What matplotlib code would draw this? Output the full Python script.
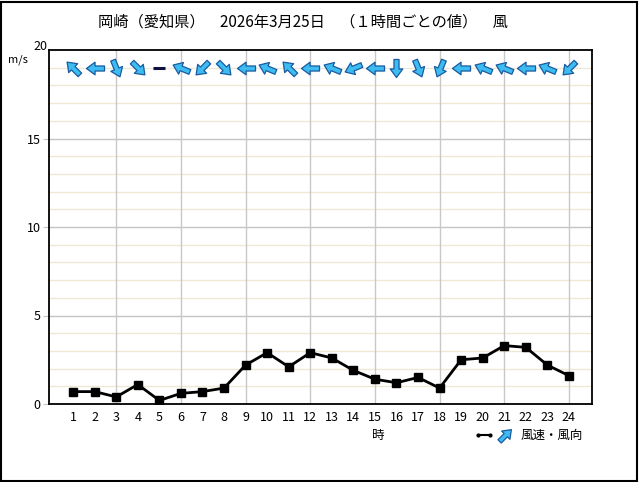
import matplotlib
matplotlib.use("Agg")
import matplotlib.pyplot as plt
from matplotlib.path import Path
from matplotlib.markers import MarkerStyle
from matplotlib.transforms import Affine2D
from matplotlib.lines import Line2D
from matplotlib.patches import Rectangle

plt.rcParams['font.family'] = ['Noto Sans CJK JP', 'DejaVu Sans']

hours = list(range(1, 25))
speed = [0.7, 0.7, 0.4, 1.1, 0.2, 0.6, 0.7, 0.9, 2.2, 2.9, 2.1, 2.9,
         2.6, 1.9, 1.4, 1.2, 1.5, 0.9, 2.5, 2.6, 3.3, 3.2, 2.2, 1.6]
direction = ['南東', '東', '北北西', '北西', '静穏', '東南東', '北東', '北西',
             '東', '東南東', '南東', '東', '東南東', '東北東', '東', '北',
             '北北西', '北北東', '東', '東南東', '東南東', '東', '東南東', '北東']
title = '岡崎（愛知県）　2026年3月25日　（１時間ごとの値）　風'

compass = ['北', '北北東', '北東', '東北東', '東', '東南東', '南東', '南南東',
           '南', '南南西', '南西', '西南西', '西', '西北西', '北西', '北北西']

# arrow shape pointing east
arrow_verts = [(-1.0, -0.28), (0.05, -0.28), (0.05, -0.7), (1.0, 0.0),
               (0.05, 0.7), (0.05, 0.28), (-1.0, 0.28), (-1.0, -0.28)]
arrow_codes = [Path.MOVETO] + [Path.LINETO] * 6 + [Path.CLOSEPOLY]
arrow_path = Path(arrow_verts, arrow_codes)

def arrow_marker(angle):
    return MarkerStyle(arrow_path, transform=Affine2D().rotate_deg(angle))

W, H = 640, 482
fig = plt.figure(figsize=(W / 100, H / 100), dpi=100)
fig.patch.set_facecolor('white')
fig.patches.append(Rectangle((1 / W, 1 / H), 1 - 4 / W, 1 - 3 / H, transform=fig.transFigure,
                             fill=False, edgecolor='black', linewidth=1.5))

left, right, top, bottom = 49, 592, 50, 404
ax = fig.add_axes([left / W, (H - bottom) / H, (right - left) / W, (bottom - top) / H])
ax.set_xlim(-0.12, 25.07)
ax.set_ylim(0, 20)

for yv in range(1, 20):
    if yv % 5 == 0:
        ax.axhline(yv, color='#c4c4c4', linewidth=1, zorder=1)
    else:
        ax.axhline(yv, color='#efe8d4', linewidth=1, zorder=0.5)
for xv in range(3, 25, 3):
    ax.axvline(xv, color='#c8c8c8', linewidth=1, zorder=1)

ax.plot(hours, speed, color='black', linewidth=2, marker='s', markersize=6, zorder=3)

for h, d in zip(hours, direction):
    if d == '静穏':
        ax.plot([h], [19], marker='_', markersize=8, markeredgewidth=2.2,
                color='#101040', zorder=4)
    else:
        frm = compass.index(d) * 22.5
        ang = -90 - frm
        ax.plot([h], [19], marker=arrow_marker(ang), markersize=13,
                markerfacecolor='#3cbcf0', markeredgecolor='#1a5aa0',
                markeredgewidth=0.9, linestyle='none', zorder=4)

ax.set_xticks(hours)
ax.set_xticklabels([str(h) for h in hours], fontsize=9)
ax.tick_params(axis='x', length=0, pad=5)
ax.set_yticks([0, 5, 10, 15])
ax.set_yticklabels(['0', '5', '10', '15'], fontsize=9)
ax.tick_params(axis='y', length=4, color='#c4c4c4', pad=2)
for s in ax.spines.values():
    s.set_color('black')
    s.set_linewidth(1.3)

fig.text(40 / W, 1 - 47 / H, '20', fontsize=9, ha='center', va='center')
fig.text(18 / W, 1 - 60 / H, 'm/s', fontsize=8, ha='center', va='center')
fig.text(303 / W, 1 - 22 / H, title, fontsize=11, ha='center', va='center')
fig.text(378 / W, 1 - 435 / H, '時', fontsize=9, ha='center', va='center')

# legend
ly = 1 - 435 / H
fig.add_artist(Line2D([478 / W, 490 / W], [ly, ly], color='black', linewidth=1.5,
                      marker='o', markersize=2, transform=fig.transFigure))
fig.add_artist(Line2D([505 / W], [ly], marker=arrow_marker(45), markersize=12,
                      markerfacecolor='#3cbcf0', markeredgecolor='#1a5aa0',
                      markeredgewidth=0.9, linestyle='none', transform=fig.transFigure))
fig.text(521 / W, ly, '風速・風向', fontsize=9, ha='left', va='center')

fig.savefig('out.png', dpi=100, facecolor='white')
